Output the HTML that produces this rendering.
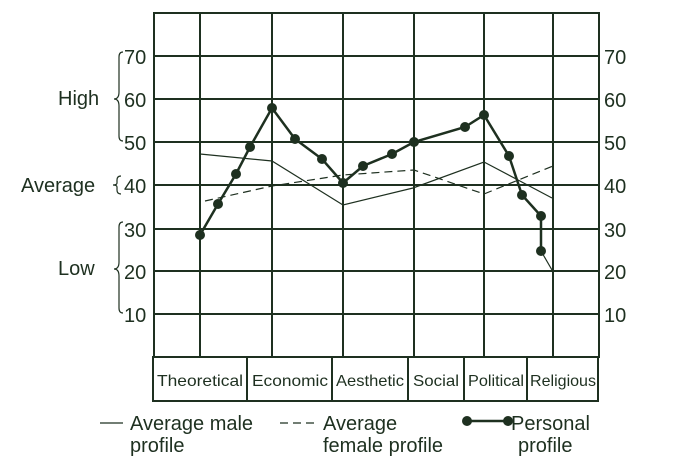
<!DOCTYPE html>
<html><head><style>
body{margin:0;background:#fff}
svg text{font-family:"Liberation Sans",sans-serif;fill:#1e3020}
</style></head><body>
<svg width="675" height="470" viewBox="0 0 675 470" xmlns="http://www.w3.org/2000/svg">
<g stroke="#1e3020" stroke-width="2" fill="none">
<rect x="154" y="13" width="445" height="344"/>
<line x1="154" y1="56" x2="599" y2="56"/>
<line x1="154" y1="99" x2="599" y2="99"/>
<line x1="154" y1="142" x2="599" y2="142"/>
<line x1="154" y1="185" x2="599" y2="185"/>
<line x1="154" y1="229" x2="599" y2="229"/>
<line x1="154" y1="271" x2="599" y2="271"/>
<line x1="154" y1="314" x2="599" y2="314"/>
<line x1="200" y1="13" x2="200" y2="357"/>
<line x1="272" y1="13" x2="272" y2="357"/>
<line x1="343" y1="13" x2="343" y2="357"/>
<line x1="414" y1="13" x2="414" y2="357"/>
<line x1="484" y1="13" x2="484" y2="357"/>
<line x1="553" y1="13" x2="553" y2="357"/>
<rect x="153" y="357" width="445" height="44"/>
<line x1="247" y1="357" x2="247" y2="401"/>
<line x1="332" y1="357" x2="332" y2="401"/>
<line x1="408" y1="357" x2="408" y2="401"/>
<line x1="464" y1="357" x2="464" y2="401"/>
<line x1="527" y1="357" x2="527" y2="401"/>
</g>
<g stroke="#1e3020" stroke-width="1.2" fill="none">
<polyline points="200,154 272,161 343,205 413,188 484,162 552,198"/>
<polyline points="541,251 552,270"/>
<polyline stroke-dasharray="8,5" points="205,201 272,186 343,175 414,170 484,194 553,166"/>
<path d="M123 52 q-4 0 -4 5 v35 q0 7 -5 7 q5 0 5 7 v30 q0 5 4 5"/>
<path d="M121 176 q-4 0 -4 4 v3 q0 2 -4 2 q4 0 4 2 v3 q0 4 4 4"/>
<path d="M123 222 q-4 0 -4 5 v35 q0 7 -5 7 q5 0 5 7 v32 q0 5 4 5"/>
<line x1="100" y1="423" x2="123" y2="423"/>
<line x1="280" y1="423" x2="318" y2="423" stroke-dasharray="8,5"/>
</g>
<g stroke="#1e3020" stroke-width="2.5" fill="none">
<polyline points="200,235 218,204 236,174 250,147 272,108 295,139 322,159 343,183 363,166 392,154 414,142 465,127 484,115 509,156 522,195 541,216 541,251"/>
<line x1="467" y1="421" x2="508" y2="421"/>
</g>
<g fill="#1e3020">
<circle cx="200" cy="235" r="5"/><circle cx="218" cy="204" r="5"/><circle cx="236" cy="174" r="5"/><circle cx="250" cy="147" r="5"/><circle cx="272" cy="108" r="5"/><circle cx="295" cy="139" r="5"/><circle cx="322" cy="159" r="5"/><circle cx="343" cy="183" r="5"/><circle cx="363" cy="166" r="5"/><circle cx="392" cy="154" r="5"/><circle cx="414" cy="142" r="5"/><circle cx="465" cy="127" r="5"/><circle cx="484" cy="115" r="5"/><circle cx="509" cy="156" r="5"/><circle cx="522" cy="195" r="5"/><circle cx="541" cy="216" r="5"/><circle cx="541" cy="251" r="5"/>
<circle cx="467" cy="421" r="5"/><circle cx="508" cy="421" r="5"/>
</g>
<g font-size="20">
<text x="124" y="64">70</text><text x="124" y="107">60</text><text x="124" y="150">50</text><text x="124" y="193">40</text><text x="124" y="237">30</text><text x="124" y="279">20</text><text x="124" y="322">10</text>
<text x="604" y="64">70</text><text x="604" y="107">60</text><text x="604" y="150">50</text><text x="604" y="193">40</text><text x="604" y="237">30</text><text x="604" y="279">20</text><text x="604" y="322">10</text>
<text x="58" y="105">High</text>
<text x="21" y="192">Average</text>
<text x="58" y="275">Low</text>
<text x="130" y="430">Average male</text><text x="130" y="452">profile</text>
<text x="323" y="430">Average</text><text x="323" y="452">female profile</text>
<text x="511" y="430">Personal</text><text x="518" y="452">profile</text>
</g>
<g font-size="16" text-anchor="middle">
<text x="200" y="386" textLength="86" lengthAdjust="spacingAndGlyphs">Theoretical</text>
<text x="290" y="386" textLength="76" lengthAdjust="spacingAndGlyphs">Economic</text>
<text x="370" y="386" textLength="68" lengthAdjust="spacingAndGlyphs">Aesthetic</text>
<text x="436" y="386" textLength="46" lengthAdjust="spacingAndGlyphs">Social</text>
<text x="496" y="386" textLength="56" lengthAdjust="spacingAndGlyphs">Political</text>
<text x="563" y="386" textLength="66" lengthAdjust="spacingAndGlyphs">Religious</text>
</g>
</svg>
</body></html>
